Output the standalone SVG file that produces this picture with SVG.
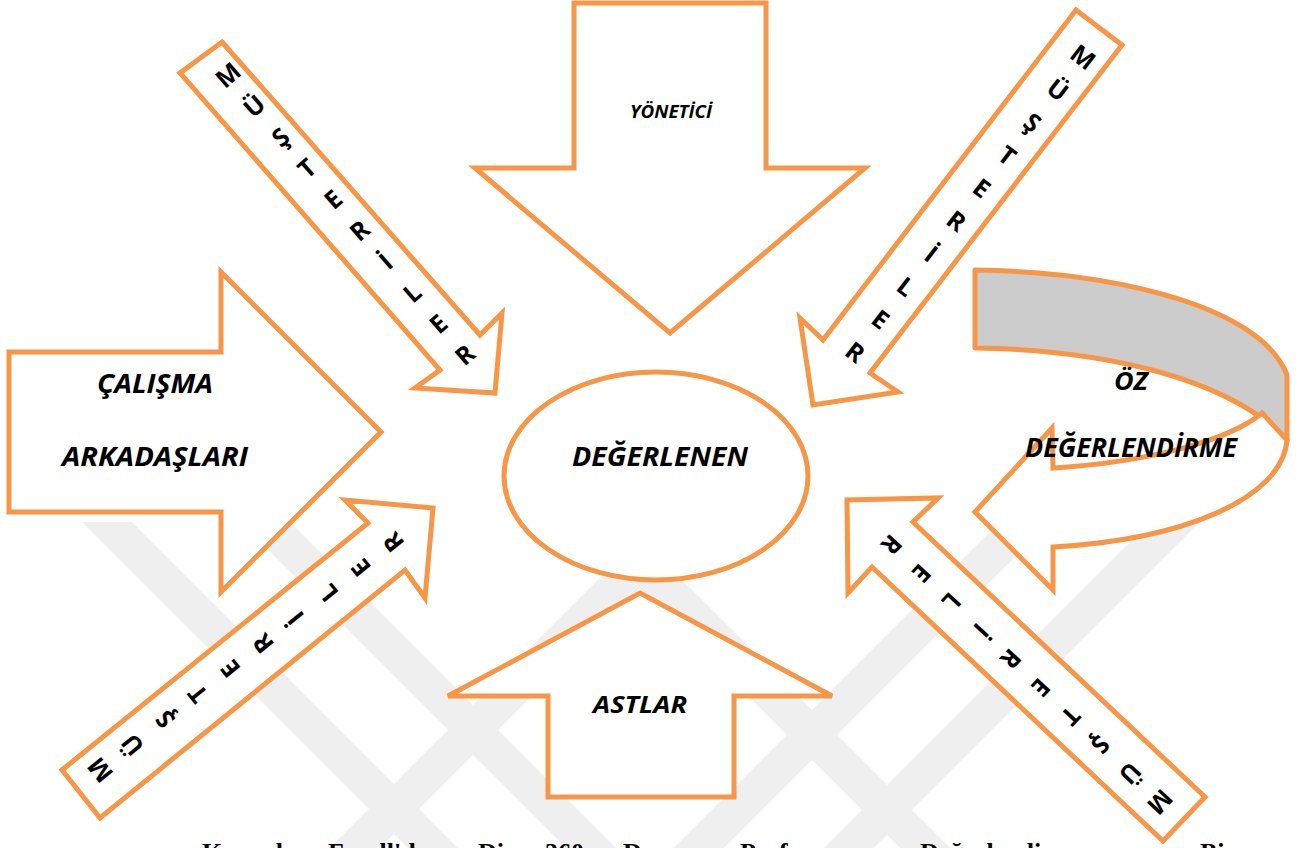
<svg xmlns="http://www.w3.org/2000/svg" width="1304" height="848" viewBox="0 0 1304 848">
<style>
.shape{fill:#ffffff;stroke:#f79646;stroke-width:5;stroke-linejoin:miter}
.lbl{font-family:"Open Sans",Lato,sans-serif;font-weight:bold;font-style:italic;fill:#000;text-anchor:middle}
.let text{font-family:"Open Sans",Lato,sans-serif;font-weight:bold;font-size:25px;fill:#000;text-anchor:middle}
.wm{fill:#efefef}
.cap{font-family:"Liberation Serif",serif;font-weight:bold;font-size:26px;fill:#000}
</style>
<rect width="1304" height="848" fill="#ffffff"/>
<g id="watermark">
<polygon class="wm" points="82,522 132,522 458,848 408,848"/>
<polygon class="wm" points="240,522 290,522 616,848 566,848"/>
<polygon class="wm" points="330,848 380,848 640,588 615,563"/>
<polygon class="wm" points="615,563 665,563 950,848 900,848"/>
<polygon class="wm" points="1000,522 1050,522 724,848 674,848"/>
<polygon class="wm" points="1150,522 1200,522 874,848 824,848"/>
</g>
<g id="caption">
<text class="cap" x="202" y="861">Kaynak:</text>
<text class="cap" x="328" y="861">Farell'da</text>
<text class="cap" x="478" y="861">Diye</text>
<text class="cap" x="545" y="861">360</text>
<text class="cap" x="623" y="861">Derece</text>
<text class="cap" x="740" y="861">Performans</text>
<text class="cap" x="920" y="861">Değerlendirme</text>
<text class="cap" x="1200" y="861">Bi</text>
</g>
<g id="connectors">
<g id="yonetici">
<polygon class="shape" points="574,3 766,3 766,168 865,168 670,333 475,168 574,168"/>
<text class="lbl" x="671" y="118" font-size="18" textLength="82" lengthAdjust="spacingAndGlyphs">YÖNETİCİ</text>
</g>
<g id="calisma">
<polygon class="shape" points="9,352 221,352 221,272 381,432 221,592 221,512 9,512"/>
<text class="lbl" x="155" y="393" font-size="26" textLength="116" lengthAdjust="spacingAndGlyphs">ÇALIŞMA</text>
<text class="lbl" x="155" y="466" font-size="26" textLength="186" lengthAdjust="spacingAndGlyphs">ARKADAŞLARI</text>
</g>
<g id="astlar">
<polygon class="shape" points="640,593 832,696 734,696 734,797 548,797 548,696 448,696"/>
<text class="lbl" x="640" y="713" font-size="24" textLength="94" lengthAdjust="spacingAndGlyphs">ASTLAR</text>
</g>
<g id="musteri-tl">
<polygon class="shape" points="222,42 480,335 502,313 495,393 415,388 440,370 180,73"/>
<g class="let">
<text transform="translate(228,75) rotate(-41)" y="9">M</text>
<text transform="translate(254.3,106.1) rotate(-41)" y="9">Ü</text>
<text transform="translate(280.6,137.2) rotate(-41)" y="9">Ş</text>
<text transform="translate(306.9,168.3) rotate(-41)" y="9">T</text>
<text transform="translate(333.2,199.4) rotate(-41)" y="9">E</text>
<text transform="translate(359.5,230.5) rotate(-41)" y="9">R</text>
<text transform="translate(385.8,261.6) rotate(-41)" y="9">İ</text>
<text transform="translate(412.1,292.7) rotate(-41)" y="9">L</text>
<text transform="translate(438.4,323.8) rotate(-41)" y="9">E</text>
<text transform="translate(464.7,354.9) rotate(-41)" y="9">R</text>
</g>
</g>
<g id="musteri-tr">
<polygon class="shape" points="1076,10 1122,45 870,373 898,392 813,405 800,318 823,340"/>
<g class="let">
<text transform="translate(1083,57) rotate(37.5)" y="9">M</text>
<text transform="translate(1057.7,89.8) rotate(37.5)" y="9">Ü</text>
<text transform="translate(1032.4,122.6) rotate(37.5)" y="9">Ş</text>
<text transform="translate(1007.1,155.4) rotate(37.5)" y="9">T</text>
<text transform="translate(981.8,188.2) rotate(37.5)" y="9">E</text>
<text transform="translate(956.5,221) rotate(37.5)" y="9">R</text>
<text transform="translate(931.2,253.8) rotate(37.5)" y="9">İ</text>
<text transform="translate(905.9,286.6) rotate(37.5)" y="9">L</text>
<text transform="translate(880.6,319.4) rotate(37.5)" y="9">E</text>
<text transform="translate(855.3,352.2) rotate(37.5)" y="9">R</text>
</g>
</g>
<g id="musteri-bl">
<polygon class="shape" points="62,770 368,523 345,500 433,508 425,598 405,570 100,818"/>
<g class="let">
<text transform="translate(100,770) rotate(-129)" y="9">M</text>
<text transform="translate(132.6,744.7) rotate(-129)" y="9">Ü</text>
<text transform="translate(165.2,719.4) rotate(-129)" y="9">Ş</text>
<text transform="translate(197.8,694.1) rotate(-129)" y="9">T</text>
<text transform="translate(230.4,668.8) rotate(-129)" y="9">E</text>
<text transform="translate(263,643.5) rotate(-129)" y="9">R</text>
<text transform="translate(295.6,618.2) rotate(-129)" y="9">İ</text>
<text transform="translate(328.2,592.9) rotate(-129)" y="9">L</text>
<text transform="translate(360.8,567.6) rotate(-129)" y="9">E</text>
<text transform="translate(393.4,542.3) rotate(-129)" y="9">R</text>
</g>
</g>
<g id="musteri-br">
<polygon class="shape" points="1205,797 913,522 938,498 847,500 848,593 872,567 1163,841"/>
<g class="let">
<text transform="translate(1160,802) rotate(133)" y="9">M</text>
<text transform="translate(1130.2,773.4) rotate(133)" y="9">Ü</text>
<text transform="translate(1100.4,744.8) rotate(133)" y="9">Ş</text>
<text transform="translate(1070.6,716.2) rotate(133)" y="9">T</text>
<text transform="translate(1040.8,687.6) rotate(133)" y="9">E</text>
<text transform="translate(1011,659) rotate(133)" y="9">R</text>
<text transform="translate(981.2,630.4) rotate(133)" y="9">İ</text>
<text transform="translate(951.4,601.8) rotate(133)" y="9">L</text>
<text transform="translate(921.6,573.2) rotate(133)" y="9">E</text>
<text transform="translate(891.8,544.6) rotate(133)" y="9">R</text>
</g>
</g>
<g id="oz">
<path d="M975,270 C1120,272 1262,308 1287,375 L1287,440 C1230,380 1110,350 975,348 Z" fill="#cccccc" stroke="#f79646" stroke-width="5" stroke-linejoin="round"/>
<path class="shape" d="M1287,440 C1282,500 1180,540 1053,547 L1053,590 L975,512 L1052,428 L1053,468 C1150,462 1230,440 1262,413 Z"/>
<text class="lbl" x="1131" y="390" font-size="25" textLength="34" lengthAdjust="spacingAndGlyphs">ÖZ</text>
<text class="lbl" x="1131" y="457" font-size="26" textLength="212" lengthAdjust="spacingAndGlyphs">DEĞERLENDİRME</text>
</g>
</g>
<g id="degerlenen">
<ellipse class="shape" cx="656" cy="476" rx="152" ry="104"/>
<text class="lbl" x="660" y="466" font-size="26" textLength="176" lengthAdjust="spacingAndGlyphs">DEĞERLENEN</text>
</g>
</svg>
